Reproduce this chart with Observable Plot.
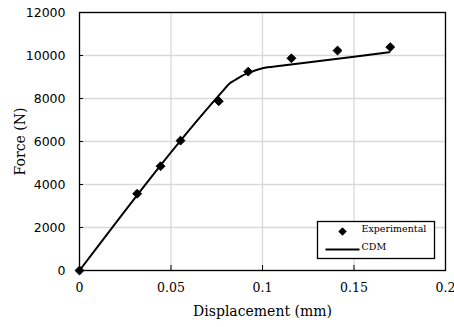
<!DOCTYPE html>
<html><head><meta charset="utf-8">
<script src="https://cdn.jsdelivr.net/npm/d3@7"></script>
<script src="https://cdn.jsdelivr.net/npm/@observablehq/plot@0.6"></script>
<style>body{margin:0;background:#fff}</style>
</head><body><div id="chart"></div>
<script>
const expDisp  = [0, 0.0315, 0.0443, 0.0552, 0.0761, 0.0922, 0.1158, 0.141, 0.1698];
const expForce = [0, 3570, 4850, 6040, 7870, 9250, 9870, 10230, 10390];
const cdmDisp  = [0, 0.078, 0.082, 0.085, 0.088, 0.092, 0.1, 0.11, 0.13, 0.15, 0.1694];
const cdmForce = [0, 8320, 8700, 8860, 9020, 9180, 9410, 9520, 9730, 9940, 10155];
const xTicks = [0, 0.05, 0.1, 0.15, 0.2];
const yTicks = [0, 2000, 4000, 6000, 8000, 10000, 12000];
const legendLabels = ["Experimental", "CDM"];

const expData = expDisp.map((d, i) => ({d, f: expForce[i]}));
const cdmData = cdmDisp.map((d, i) => ({d, f: cdmForce[i]}));
const hline = {draw(ctx) { ctx.moveTo(-17, 0); ctx.lineTo(17, 0); }};
const serif = "'DejaVu Serif', serif";

const chart = Plot.plot({
  width: 454, height: 327,
  marginLeft: 79, marginRight: 9, marginTop: 12, marginBottom: 57,
  style: {background: "white", color: "#000"},
  x: {domain: [0, 0.2]},
  y: {domain: [0, 12000]},
  marks: [
    Plot.gridX(xTicks, {stroke: "#d9d9d9", strokeOpacity: 1, strokeWidth: 1.3}),
    Plot.gridY(yTicks, {stroke: "#d9d9d9", strokeOpacity: 1, strokeWidth: 1.3}),
    Plot.tickX(xTicks, {stroke: "#000", insetTop: 253}),
    Plot.tickY(yTicks, {stroke: "#000", insetRight: 362}),
    Plot.axisX(xTicks, {tickSize: 0, tickPadding: 13, tickFormat: d => String(d),
      fontFamily: serif, fontSize: 12.5,
      label: "Displacement (mm)", labelAnchor: "center", labelArrow: "none", labelOffset: 45}),
    Plot.axisY(yTicks, {tickSize: 0, tickPadding: 14, tickFormat: d => String(d),
      fontFamily: "'DejaVu Sans', sans-serif", fontSize: 12.5,
      label: "Force (N)", labelAnchor: "center", labelArrow: "none", labelOffset: 64}),
    Plot.frame({stroke: "#000", strokeWidth: 1.3}),
    Plot.line(cdmData, {x: "d", y: "f", stroke: "#000", strokeWidth: 2, curve: "monotone-x"}),
    Plot.dot(expData, {x: "d", y: "f", symbol: "diamond2", r: 4, fill: "#000", stroke: "#000", strokeWidth: 1}),
    Plot.frame({insetLeft: 238, insetRight: 11, insetTop: 209, insetBottom: 12, fill: "white", stroke: "#000", strokeWidth: 1.3}),
    Plot.dot([legendLabels[0]], {frameAnchor: "bottom-right", dx: -103, dy: -39, symbol: "diamond2", r: 3.3, fill: "#000", stroke: "#000", strokeWidth: 1}),
    Plot.dot([legendLabels[1]], {frameAnchor: "bottom-right", dx: -103, dy: -21, symbol: hline, stroke: "#000", strokeWidth: 2}),
    Plot.text([legendLabels[0]], {frameAnchor: "bottom-right", dx: -84, dy: -39, textAnchor: "start", fontFamily: serif, fontSize: 9.5, text: d => d}),
    Plot.text([legendLabels[1]], {frameAnchor: "bottom-right", dx: -84, dy: -21, textAnchor: "start", fontFamily: serif, fontSize: 9.5, text: d => d})
  ]
});
chart.querySelectorAll('[aria-label="x-axis label"] text, [aria-label="y-axis label"] text').forEach(t => {
  t.style.fontFamily = serif; t.style.fontSize = "14px";
});
document.getElementById("chart").append(chart);
</script>
</body></html>
